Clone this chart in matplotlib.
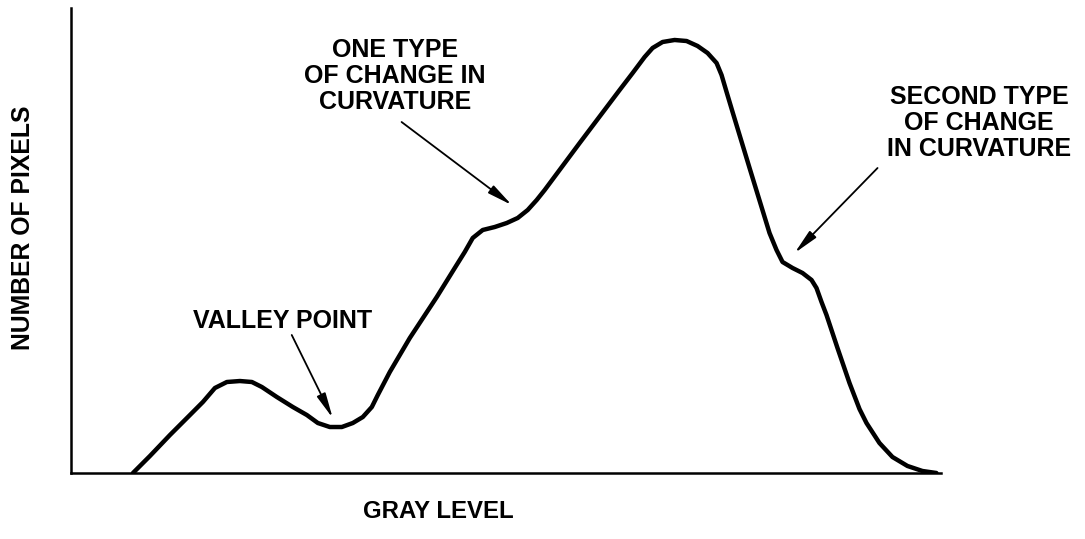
import matplotlib.pyplot as plt

plt.rcParams['font.family'] = ['Liberation Sans', 'DejaVu Sans']

# histogram outline (gray level vs. pixel count)
gray_level = [18.16, 23.14, 29.00, 34.86, 38.66, 42.18, 45.69, 49.50, 53.02,
              55.95, 60.34, 65.03, 69.13, 72.35, 75.86, 79.38, 82.60, 85.53,
              88.17, 89.92, 93.44, 99.30, 107.21, 112.48, 115.41, 117.75,
              120.68, 124.19, 127.71, 130.93, 133.86, 136.50, 138.84, 149.09,
              160.81, 164.62, 168.13, 170.47, 173.40, 176.92, 180.43, 183.65,
              186.58, 189.22, 190.68, 192.15, 193.91, 198.89, 204.74, 206.79,
              208.55, 211.48, 214.41, 217.05, 218.51, 219.98, 221.44, 224.66,
              228.18, 231.11, 233.16, 236.96, 240.77, 245.17, 249.56, 253.66]
pixel_count = [0, 36.6, 81.7, 124.7, 152.7, 182.8, 195.7, 197.8, 195.7, 184.9,
               163.4, 141.9, 124.7, 107.5, 98.9, 98.9, 107.5, 120.4, 141.9,
               167.7, 217.2, 290.3, 378.5, 440.9, 475.3, 505.4, 522.6, 529.0,
               537.6, 548.4, 565.6, 587.1, 608.6, 709.7, 823.7, 860.2, 894.6,
               914.0, 926.9, 931.2, 929.0, 918.3, 903.2, 881.7, 855.9, 819.4,
               776.3, 655.9, 516.1, 479.6, 453.8, 440.9, 430.1, 415.1, 397.8,
               367.7, 339.8, 268.8, 193.5, 137.6, 107.5, 64.5, 34.4, 15.1, 4.3,
               0]

# annotations: label, arrow tip (on curve), arrow tail, text centre
labels = ['VALLEY POINT', 'ONE TYPE\nOF CHANGE IN\nCURVATURE',
          'SECOND TYPE\nOF CHANGE\nIN CURVATURE']
tips = [(76.7, 118.3), (129.2, 576.3), (212.1, 473.1)]
tails = [(64.7, 296.8), (96.9, 754.8), (236.4, 655.9)]
text_pos = [(62.1, 326.9), (94.9, 853.8), (266.2, 752.7)]

fig = plt.figure(figsize=(10.85, 5.39), dpi=100)
ax = fig.add_axes([71 / 1085, 66 / 539, 870 / 1085, 465 / 539])

ax.plot(gray_level, pixel_count, color='black', lw=3.2,
        solid_joinstyle='round', solid_capstyle='round')

for lab, tip, tail, pos in zip(labels, tips, tails, text_pos):
    ax.annotate('', xy=tip, xytext=tail,
                arrowprops=dict(arrowstyle='-|>,head_length=1.5,head_width=0.28',
                                color='black', lw=1.3, shrinkA=0, shrinkB=0))
    ax.text(pos[0], pos[1], lab, ha='center', va='center', fontsize=18,
            fontweight='bold', linespacing=1.12, clip_on=False)

ax.set_xlim(0, 255)
ax.set_ylim(0, 1000)
ax.spines['top'].set_visible(False)
ax.spines['right'].set_visible(False)
ax.spines['left'].set_linewidth(1.8)
ax.spines['bottom'].set_linewidth(1.8)
ax.set_xticks([])
ax.set_yticks([])

fig.text(438 / 1085, 1 - 511 / 539, 'GRAY LEVEL', ha='center', va='center',
         fontsize=17.3, fontweight='bold')
fig.text(23 / 1085, 1 - 228 / 539, 'NUMBER OF PIXELS', ha='center',
         va='center', rotation=90, fontsize=17.8, fontweight='bold')

fig.savefig('out.png', dpi=100)
